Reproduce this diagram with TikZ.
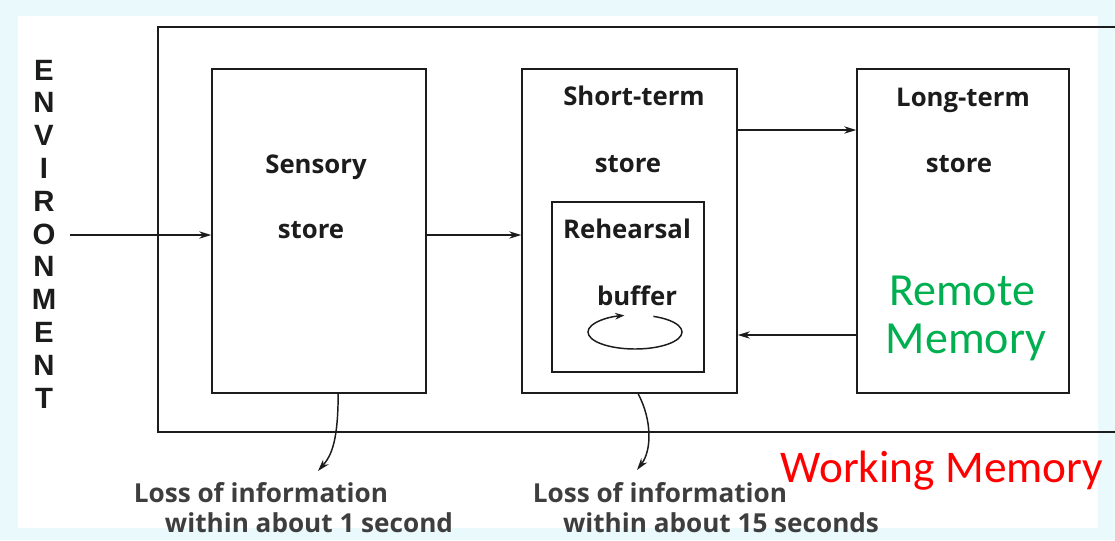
\documentclass[tikz,border=0pt]{standalone}
\usepackage{fontspec}
\setmainfont{Open Sans}
\newfontfamily\calfont{Carlito}
\newfontfamily\envfont{Liberation Sans}
\usetikzlibrary{arrows.meta,calc}
\definecolor{bgcyan}{HTML}{EAF9FC}
\definecolor{wmred}{HTML}{FF0000}
\definecolor{rmgreen}{HTML}{00B050}
\definecolor{ink}{HTML}{1C1C1C}
\begin{document}
\begin{tikzpicture}[x=0.75pt,y=-0.75pt,
  box/.style={draw=ink,line width=1.2pt,inner sep=0pt},
  lbl/.style={font=\bfseries\fontsize{19.3}{21}\selectfont,text=ink,inner sep=0pt,anchor=base},
  loss/.style={font=\bfseries\fontsize{19.6}{21}\selectfont,text=ink!85,inner sep=0pt,anchor=base},
  envl/.style={font=\envfont\bfseries\fontsize{22}{23}\selectfont,text=ink,inner sep=0pt,anchor=base},
  memo/.style={font=\calfont\fontsize{34.5}{36}\selectfont,inner sep=0pt,anchor=base},
  arr/.style={draw=ink,line width=1.1pt,-{Stealth[length=9pt,width=5.5pt]}}]
\useasboundingbox (0,0) rectangle (1115,540);
\fill[bgcyan] (0,0) rectangle (1115,540);
\fill[white] (18,16) rectangle (1098,528);
% outer frame
\draw[ink,line width=1.2pt] (1115,27) -| (158,432) -- (1115,432);
% boxes
\node[box,minimum width=160.5pt,minimum height=243pt] (sens) at (319,231) {};
\node[box,minimum width=161.25pt,minimum height=243pt] (short) at (629.5,231) {};
\node[box,minimum width=114pt,minimum height=127.5pt] (reh) at (628,287) {};
\node[box,minimum width=159pt,minimum height=243pt] (long) at (963,231) {};
% labels
\node[lbl] (sensA) at (316,173) {Sensory};
\node[lbl] (sensB) at (311,238) {store};
\node[lbl] (shortA) at (634,105) {Short-term};
\node[lbl] (shortB) at (628,172) {store};
\node[lbl] (rehA) at (627,238) {Rehearsal};
\node[lbl] (rehB) at (637,305) {buffer};
\node[lbl] (longA) at (963,106) {Long-term};
\node[lbl] (longB) at (959,172) {store};
\node[memo,text=rmgreen] (remA) at (962,305) {Remote};
\node[memo,text=rmgreen] (remB) at (966,353) {Memory};
\node[memo,text=wmred,font=\calfont\fontsize{34}{36}\selectfont] (wm) at (942,482) {Working Memory};
\node[loss] (lossA1) at (261,502) {Loss of information};
\node[loss] (lossA2) at (309,532) {within about 1 second};
\node[loss] (lossB1) at (660,502) {Loss of information};
\node[loss] (lossB2) at (721,532) {within about 15 seconds};
% ENVIRONMENT
\foreach \ch [count=\i from 0] in {E,N,V,I,R,O,N,M,E,N,T}{
  \node[envl] (env\i) at (44,{80+32.8*\i}) {\ch};
}
% arrows
\coordinate (envsrc) at (70,235);
\coordinate (upper) at (0,130);
\coordinate (lower) at (0,335);
\draw[arr] (envsrc) -- (envsrc -| sens.west);
\draw[arr] (sens.east |- envsrc) -- (short.west |- envsrc);
\draw[arr] (short.east |- upper) -- (long.west |- upper);
\draw[arr] (long.west |- lower) -- (short.east |- lower);
% loss arrows
\coordinate (lossA) at (318,471);
\coordinate (lossB) at (637,470);
\draw[arr] ($(sens.south west)!0.589!(sens.south east)$) .. controls (338,440) and (332,455) .. (lossA);
\draw[arr] ($(short.south west)!0.54!(short.south east)$) .. controls (652,420) and (652,450) .. (lossB);
% rehearsal loop
\draw[ink,line width=1.1pt,-{Stealth[length=7pt,width=5pt]}] ($(reh.center)+(7,45)+(-67:47 and 17)$) coordinate (loopstart)
  arc[start angle=-67,end angle=257,x radius=47,y radius=17];
\end{tikzpicture}
\end{document}
